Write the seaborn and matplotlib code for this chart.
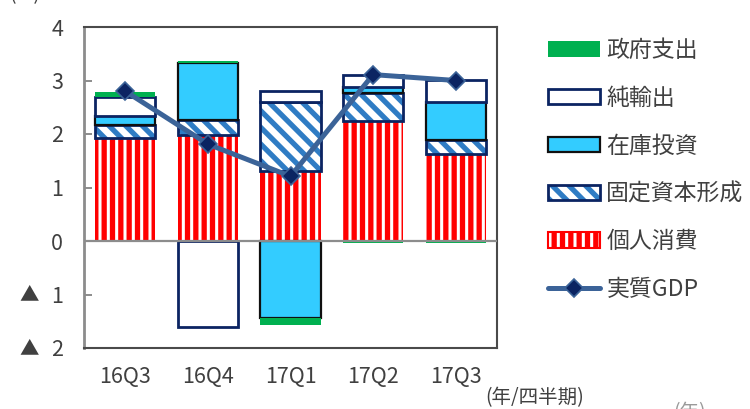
import numpy as np
import matplotlib
matplotlib.use("Agg")
import matplotlib.pyplot as plt
import seaborn as sns
from matplotlib.patches import Patch
from matplotlib.lines import Line2D
from matplotlib.ticker import FuncFormatter, FixedLocator
import matplotlib.transforms as mtransforms

# Contributions to real GDP growth (percentage points), by quarter
quarters = ["16Q3", "16Q4", "17Q1", "17Q2", "17Q3"]
consumption = [1.92, 1.98, 1.30, 2.24, 1.62]     # 個人消費
fixed_capital = [0.25, 0.28, 1.30, 0.52, 0.26]   # 固定資本形成
inventory = [0.17, 1.07, -1.44, 0.12, 0.72]      # 在庫投資
net_exports = [0.35, -1.61, 0.21, 0.22, 0.40]    # 純輸出
government = [0.10, 0.04, -0.13, -0.03, -0.03]   # 政府支出
real_gdp = [2.80, 1.81, 1.21, 3.11, 3.00]        # 実質GDP
y_ticks = [-2, -1, 0, 1, 2, 3, 4]

sns.set_style("white")
plt.rcParams["font.family"] = ["Noto Sans CJK JP", "DejaVu Sans"]
plt.rcParams["hatch.linewidth"] = 3.8

NAVY = "#0b2462"
RED = "#ff0000"
STRIPE_BLUE = "#2f7cc4"
SKY = "#33ccff"
GREEN = "#00b050"
LINE_BLUE = "#3b6398"
TEXT = "#404040"

# (values, face, hatch, hatch colour, outline colour, outline width)
components = [
    (consumption, "white", "||", RED, None, 0),
    (fixed_capital, "white", "\\\\", STRIPE_BLUE, NAVY, 2.0),
    (inventory, SKY, None, SKY, "#101010", 1.6),
    (net_exports, "white", None, "white", NAVY, 2.0),
    (government, GREEN, None, GREEN, None, 0),
]

fig = plt.figure(figsize=(7.5, 4.09), dpi=100)
ax = fig.add_axes([84 / 750, 61 / 409, 413 / 750, 321 / 409])

x = np.arange(len(quarters))
width = 0.73
pos_base = np.zeros(len(x))
neg_base = np.zeros(len(x))
for i, (vals, face, hatch, hcol, edge, lw) in enumerate(components):
    vals = np.asarray(vals, dtype=float)
    bottoms = np.where(vals >= 0, pos_base, neg_base)
    ax.bar(x, vals, bottom=bottoms, width=width, color=face,
           edgecolor=hcol, linewidth=0, hatch=hatch, zorder=2 + i * 0.1)
    if edge:
        ax.bar(x, vals, bottom=bottoms, width=width, fill=False,
               edgecolor=edge, linewidth=lw, zorder=2.05 + i * 0.1)
    pos_base += np.where(vals >= 0, vals, 0)
    neg_base += np.where(vals < 0, vals, 0)

ax.axhline(0, color="#8c8c8c", lw=1.6, zorder=3)

sns.lineplot(x=x, y=real_gdp, ax=ax, color=LINE_BLUE, lw=3.6,
             marker="D", markersize=9, markerfacecolor=NAVY,
             markeredgecolor=LINE_BLUE, markeredgewidth=1.2,
             legend=False, zorder=5)

ax.set_xlim(-0.5, 4.5)
ax.set_ylim(-2, 4)
ax.yaxis.set_major_locator(FixedLocator(y_ticks))
# negative values are written with a leading ▲ (drawn separately, smaller)
ax.yaxis.set_major_formatter(FuncFormatter(lambda v, _: f"{abs(int(round(v)))}"))
ax.set_xticks(x)
ax.set_xticklabels(quarters)
ax.tick_params(axis="y", direction="in", length=6, width=1.4, color="#8c8c8c",
               pad=15, labelsize=15.5, labelcolor=TEXT, left=True)
ax.tick_params(axis="x", length=0, pad=13, labelsize=15.5, labelcolor=TEXT)
ax.set_xlabel("")
ax.set_ylabel("")

neg_mark = mtransforms.blended_transform_factory(ax.transAxes, ax.transData)
for v in y_ticks:
    if v < 0:
        ax.annotate("▲", xy=(0, v), xycoords=neg_mark, xytext=(-39.5, -0.5),
                    textcoords="offset points", ha="center", va="center",
                    fontsize=14, color=TEXT, annotation_clip=False)

for side in ("top", "right", "bottom"):
    ax.spines[side].set_color("#4a4a4a")
    ax.spines[side].set_linewidth(1.5)
ax.spines["left"].set_color("#8c8c8c")
ax.spines["left"].set_linewidth(2)

fig.text(535 / 750, 1 - 398 / 409, "(年/四半期)", ha="center", va="center",
         fontsize=14, color=TEXT)
fig.text(25 / 750, 1 + 5 / 409, "(%)", ha="center", va="center",
         fontsize=14, color=TEXT)
fig.text(690 / 750, 1 - 413 / 409, "(年)", ha="center", va="center",
         fontsize=14, color="#9a9a9a")

handles = [
    Patch(facecolor=GREEN, edgecolor=GREEN, linewidth=0),
    Patch(facecolor="white", edgecolor=NAVY, linewidth=2.0),
    Patch(facecolor=SKY, edgecolor="#101010", linewidth=1.6),
    (Patch(facecolor="white", edgecolor=STRIPE_BLUE, linewidth=0, hatch="\\\\"),
     Patch(fill=False, edgecolor=NAVY, linewidth=2.0)),
    Patch(facecolor="white", edgecolor=RED, linewidth=1.5, hatch="||"),
    Line2D([], [], color=LINE_BLUE, lw=3.6, marker="D", markersize=9,
           markerfacecolor=NAVY, markeredgecolor=LINE_BLUE, markeredgewidth=1.2),
]
labels = ["政府支出", "純輸出", "在庫投資", "固定資本形成", "個人消費", "実質GDP"]
fig.legend(handles, labels, loc="upper left", bbox_to_anchor=(548 / 750, 1 - 39 / 409),
           frameon=False, fontsize=16.5, handlelength=2.25, handleheight=0.65,
           handletextpad=0.3, labelspacing=1.08, borderpad=0, borderaxespad=0,
           labelcolor=TEXT)

fig.savefig("out.png", dpi=100)
